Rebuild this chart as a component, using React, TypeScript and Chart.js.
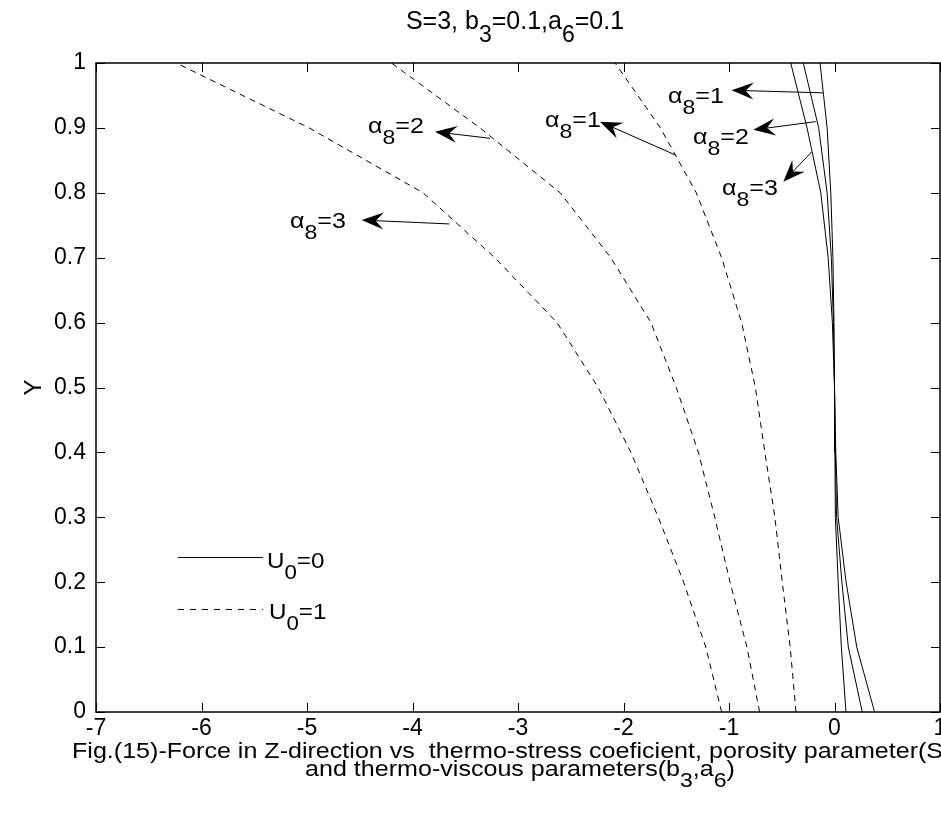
import React, { useEffect, useRef } from "react";
import { Chart, registerables } from "chart.js";

Chart.register(...registerables);

// ---- data ----
const yLevels = [0, 0.1, 0.2, 0.3, 0.4, 0.5, 0.6, 0.7, 0.8, 0.9, 1.0];

// U0 = 0 (solid)
const solidA1 = [0.109, 0.065, 0.035, 0.008, 0.004, 0, -0.005, -0.015, -0.035, -0.07, -0.137];
const solidA2 = [0.263, 0.131, 0.07, 0.02, 0.008, 0, -0.01, -0.03, -0.07, -0.15, -0.296];
const solidA3 = [0.38, 0.211, 0.11, 0.035, 0.012, 0, -0.02, -0.06, -0.13, -0.26, -0.415];

// U0 = 1 (dashed)
const dashA1 = [-0.365, -0.42, -0.495, -0.565, -0.66, -0.75, -0.88, -1.07, -1.31, -1.65, -2.08];
const dashA2 = [-0.71, -0.83, -0.99, -1.135, -1.29, -1.5, -1.74, -2.12, -2.6, -3.36, -4.2];
const dashA3 = [-1.07, -1.22, -1.43, -1.67, -1.93, -2.24, -2.63, -3.22, -3.9, -4.98, -6.24];

const xTickMin = -7;
const xTickMax = 1;
const yTickMin = 0;
const yTickMax = 1;

// annotations (data coordinates)
const annoText = ["α_8=1", "α_8=2", "α_8=3", "α_8=1", "α_8=2", "α_8=3"];
const annoTextX = [-1.578, -1.341, -1.066, -2.744, -4.422, -5.161];
const annoTextY = [0.938, 0.875, 0.797, 0.901, 0.892, 0.746];
const arrowTailX = [-0.109, -0.179, -0.217, -1.505, -3.265, -3.651];
const arrowTailY = [0.954, 0.9096, 0.863, 0.858, 0.884, 0.752];
const arrowHeadX = [-0.975, -0.77, -0.485, -2.223, -3.787, -4.482];
const arrowHeadY = [0.958, 0.897, 0.817, 0.9096, 0.894, 0.758];

const legendLabels = ["U_0=0", "U_0=1"];
const titleText = "S=3, b_3=0.1,a_6=0.1";
const yTitle = "Y";
const captionLine1 = "Fig.(15)-Force in Z-direction vs  thermo-stress coeficient, porosity parameter(S)";
const captionLine2 = "and thermo-viscous parameters(b_3,a_6)";

const FONT = "'Liberation Sans', Arial, Helvetica, sans-serif";

function toPts(xs: number[]) {
  return xs.map((v, i) => ({ x: v, y: yLevels[i] }));
}

type Seg = { t: string; sub: boolean };
function parseRich(s: string): Seg[] {
  const segs: Seg[] = [];
  let buf = "";
  let i = 0;
  while (i < s.length) {
    if (s[i] === "_" && i + 1 < s.length) {
      if (buf) segs.push({ t: buf, sub: false });
      buf = "";
      segs.push({ t: s[i + 1], sub: true });
      i += 2;
    } else {
      buf += s[i];
      i++;
    }
  }
  if (buf) segs.push({ t: buf, sub: false });
  return segs;
}

function drawRich(
  ctx: CanvasRenderingContext2D,
  s: string,
  x: number,
  y: number,
  size: number,
  align: "left" | "center" = "left",
  sx = 1
) {
  const segs = parseRich(s);
  const subSize = size * 0.92;
  const subDy = size * 0.5;
  const widths = segs.map((g) => {
    ctx.font = `${g.sub ? subSize : size}px ${FONT}`;
    return ctx.measureText(g.t).width;
  });
  const total = widths.reduce((a, b) => a + b, 0) * sx;
  const x0 = align === "center" ? x - total / 2 : x;
  ctx.save();
  ctx.translate(x0, y);
  ctx.scale(sx, 1);
  ctx.textAlign = "left";
  ctx.textBaseline = "alphabetic";
  let cx = 0;
  segs.forEach((g, i) => {
    ctx.font = `${g.sub ? subSize : size}px ${FONT}`;
    ctx.fillText(g.t, cx, g.sub ? subDy : 0);
    cx += widths[i];
  });
  ctx.restore();
}

function drawArrow(ctx: CanvasRenderingContext2D, x0: number, y0: number, x1: number, y1: number) {
  const dx = x1 - x0;
  const dy = y1 - y0;
  const len = Math.hypot(dx, dy) || 1;
  const ux = dx / len;
  const uy = dy / len;
  const px = -uy;
  const py = ux;
  const L = 22;
  const W = 8.5;
  const notch = 14;
  ctx.beginPath();
  ctx.moveTo(x0, y0);
  ctx.lineTo(x1 - ux * notch, y1 - uy * notch);
  ctx.lineWidth = 1;
  ctx.stroke();
  ctx.beginPath();
  ctx.moveTo(x1, y1);
  ctx.lineTo(x1 - ux * L + px * W, y1 - uy * L + py * W);
  ctx.lineTo(x1 - ux * notch, y1 - uy * notch);
  ctx.lineTo(x1 - ux * L - px * W, y1 - uy * L - py * W);
  ctx.closePath();
  ctx.fill();
}

const overlayPlugin = {
  id: "overlay",
  afterDraw(chart: any) {
    const { ctx, chartArea: a, scales } = chart;
    const xs = scales.x;
    const ys = scales.y;
    ctx.save();
    ctx.strokeStyle = "#000";
    ctx.fillStyle = "#000";

    // frame
    ctx.lineWidth = 1.5;
    ctx.strokeRect(a.left, a.top, a.right - a.left, a.bottom - a.top);

    // inward ticks
    const tl = 9;
    ctx.lineWidth = 1;
    ctx.beginPath();
    xs.ticks.forEach((t: any) => {
      const px = Math.round(xs.getPixelForValue(t.value)) + 0.5;
      ctx.moveTo(px, a.bottom);
      ctx.lineTo(px, a.bottom - tl);
      ctx.moveTo(px, a.top);
      ctx.lineTo(px, a.top + tl);
    });
    ys.ticks.forEach((t: any) => {
      const py = Math.round(ys.getPixelForValue(t.value)) + 0.5;
      ctx.moveTo(a.left, py);
      ctx.lineTo(a.left + tl, py);
      ctx.moveTo(a.right, py);
      ctx.lineTo(a.right - tl, py);
    });
    ctx.stroke();

    // title
    drawRich(ctx, titleText, (a.left + a.right) / 2 - 3, 29, 25, "center");

    // y title
    ctx.save();
    ctx.translate(34, (a.top + a.bottom) / 2);
    ctx.rotate(-Math.PI / 2);
    ctx.font = `24px ${FONT}`;
    ctx.textAlign = "center";
    ctx.textBaseline = "middle";
    ctx.fillText(yTitle, 0, 0);
    ctx.restore();

    // caption
    drawRich(ctx, captionLine1, 72, 758, 22, "left", 1.14);
    drawRich(ctx, captionLine2, (a.left + a.right) / 2 + 2, 776, 22, "center", 1.14);

    // annotations
    for (let i = 0; i < annoText.length; i++) {
      drawRich(
        ctx,
        annoText[i],
        xs.getPixelForValue(annoTextX[i]),
        ys.getPixelForValue(annoTextY[i]),
        22,
        "left",
        1.14
      );
      drawArrow(
        ctx,
        xs.getPixelForValue(arrowTailX[i]),
        ys.getPixelForValue(arrowTailY[i]),
        xs.getPixelForValue(arrowHeadX[i]),
        ys.getPixelForValue(arrowHeadY[i])
      );
    }

    // legend
    const lx0 = a.left + 82;
    const lx1 = a.left + 167;
    const ly = [a.top + 494.5, a.top + 546.5];
    ctx.lineWidth = 1;
    ctx.beginPath();
    ctx.setLineDash([]);
    ctx.moveTo(lx0, ly[0]);
    ctx.lineTo(lx1, ly[0]);
    ctx.stroke();
    ctx.beginPath();
    ctx.setLineDash([6, 6]);
    ctx.moveTo(lx0, ly[1]);
    ctx.lineTo(lx1, ly[1]);
    ctx.stroke();
    ctx.setLineDash([]);
    drawRich(ctx, legendLabels[0], lx1 + 4, ly[0] + 10, 22, "left", 1.1);
    drawRich(ctx, legendLabels[1], lx1 + 6, ly[1] + 9, 22, "left", 1.1);

    ctx.restore();
  },
};

export default function App() {
  const canvasRef = useRef<HTMLCanvasElement | null>(null);

  useEffect(() => {
    const canvas = canvasRef.current;
    if (!canvas) return;
    const mk = (data: number[], dashed: boolean) => ({
      data: toPts(data),
      showLine: true,
      borderColor: "#000",
      borderWidth: 1,
      borderDash: dashed ? [6, 5] : [],
      pointRadius: 0,
      tension: 0,
      fill: false,
    });
    const chart = new Chart(canvas, {
      type: "scatter",
      data: {
        datasets: [
          { label: "U0=0 a8=1", ...mk(solidA1, false) },
          { label: "U0=0 a8=2", ...mk(solidA2, false) },
          { label: "U0=0 a8=3", ...mk(solidA3, false) },
          { label: "U0=1 a8=1", ...mk(dashA1, true) },
          { label: "U0=1 a8=2", ...mk(dashA2, true) },
          { label: "U0=1 a8=3", ...mk(dashA3, true) },
        ],
      },
      options: {
        animation: false,
        responsive: false,
        maintainAspectRatio: false,
        layout: { padding: { top: 63, right: 1, bottom: 0, left: 0 } },
        plugins: {
          legend: { display: false },
          title: { display: false },
          tooltip: { enabled: false },
        },
        scales: {
          x: {
            type: "linear",
            min: xTickMin,
            max: xTickMax,
            ticks: {
              stepSize: 1,
              color: "#000",
              font: { family: FONT, size: 23 },
              padding: 3,
              autoSkip: false,
              maxRotation: 0,
            },
            grid: { display: false, drawTicks: false },
            border: { display: false },
            afterFit(s: any) {
              s.height = 102;
              s.paddingLeft = 0;
              s.paddingRight = 0;
            },
          },
          y: {
            type: "linear",
            min: yTickMin,
            max: yTickMax,
            ticks: {
              stepSize: 0.1,
              color: "#000",
              font: { family: FONT, size: 23 },
              padding: 10,
              autoSkip: false,
              callback: (v: number) => String(Math.round(v * 10) / 10),
            },
            grid: { display: false, drawTicks: false },
            border: { display: false },
            afterFit(s: any) {
              s.width = 96;
              s.paddingTop = 0;
              s.paddingBottom = 0;
            },
          },
        },
      },
      plugins: [overlayPlugin],
    } as any);
    return () => chart.destroy();
  }, []);

  return (
    <div style={{ position: "absolute", left: 0, top: 0, width: 941, height: 814, background: "#fff" }}>
      <canvas ref={canvasRef} width={941} height={814} style={{ display: "block", width: 941, height: 814 }} />
    </div>
  );
}
